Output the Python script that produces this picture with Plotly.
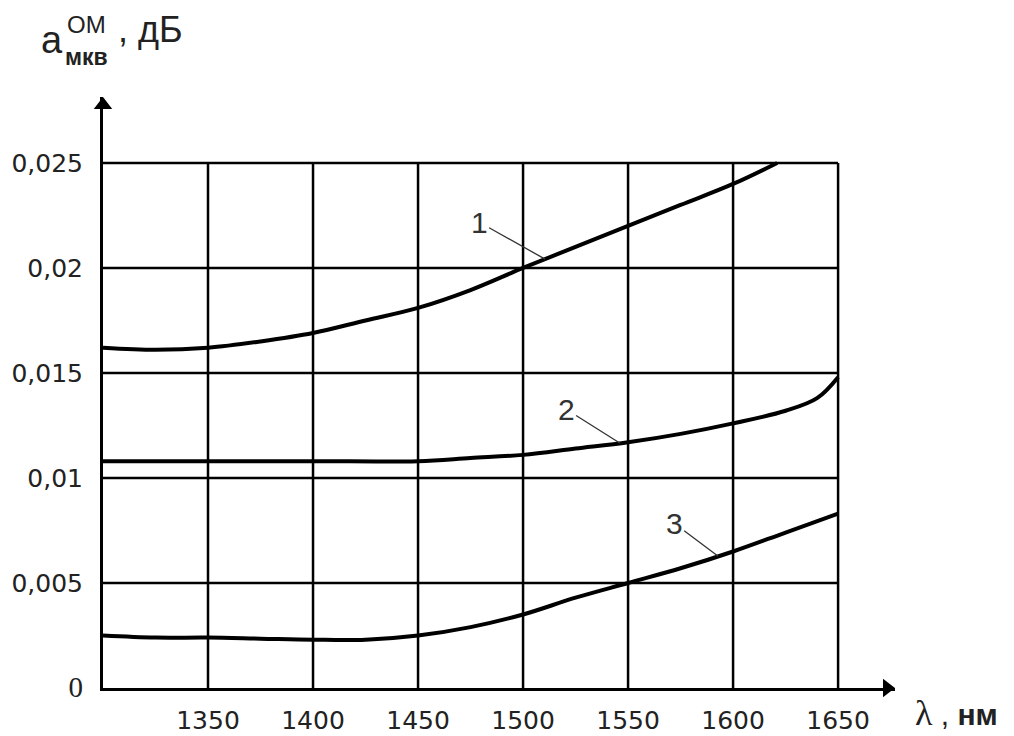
import numpy as np
import plotly.graph_objects as go

# ---------------- data ----------------
x_curve1 = [1300, 1325, 1350, 1375, 1400, 1425, 1450, 1475, 1500, 1525, 1550, 1575, 1600, 1621]
y_curve1 = [0.0162, 0.0161, 0.0162, 0.0165, 0.0169, 0.0175, 0.0181, 0.01895, 0.0200, 0.0210, 0.0220, 0.0230, 0.0240, 0.0250]

x_curve2 = [1300, 1350, 1400, 1450, 1475, 1500, 1525, 1550, 1575, 1600, 1625, 1640, 1650]
y_curve2 = [0.0108, 0.0108, 0.0108, 0.0108, 0.01095, 0.0111, 0.0114, 0.0117, 0.0121, 0.0126, 0.0132, 0.0138, 0.0148]

x_curve3 = [1300, 1325, 1350, 1375, 1400, 1425, 1450, 1475, 1500, 1525, 1550, 1575, 1600, 1625, 1650]
y_curve3 = [0.0025, 0.0024, 0.0024, 0.00235, 0.0023, 0.0023, 0.0025, 0.0029, 0.0035, 0.0043, 0.0050, 0.0057, 0.0065, 0.0074, 0.0083]

curve_labels = ["1", "2", "3"]
label_x = [1510.5, 1546.2, 1592.9]

x_tickvals = [1350, 1400, 1450, 1500, 1550, 1600, 1650]
x_ticktext = ["1350", "1400", "1450", "1500", "1550", "1600", "1650"]
y_tickvals = [0, 0.005, 0.01, 0.015, 0.02, 0.025]
y_ticktext = ["<span style='font-family:Liberation Serif;font-size:29px'>0</span>",
              "0,005", "0,01", "0,015", "0,02", "0,025"]

X_MIN, X_FRAME = 1300, 1650
Y_MIN, Y_FRAME = 0, 0.025
X_MAX = 1677.1
Y_MAX = 0.02814

# ---------------- layout geometry ----------------
PAGE_OFF = 8                     # default body margin of the html page
W, H = 1014 - PAGE_OFF, 736 - PAGE_OFF
PLOT_L, PLOT_R, PLOT_T, PLOT_B = 103, 895, 97, 688   # plot area in page pixels
ML = PLOT_L - PAGE_OFF
MT = PLOT_T - PAGE_OFF
MR = W - (PLOT_R - PAGE_OFF)
MB = H - (PLOT_B - PAGE_OFF)
PW, PH = PLOT_R - PLOT_L, PLOT_B - PLOT_T


def px(xp):
    return (xp - PLOT_L) / PW


def py(yp):
    return (PLOT_B - yp) / PH


x_per_px = (X_MAX - X_MIN) / PW
y_per_px = (Y_MAX - Y_MIN) / PH

fig = go.Figure()

for xs, ys in [(x_curve1, y_curve1), (x_curve2, y_curve2), (x_curve3, y_curve3)]:
    fig.add_trace(go.Scatter(x=xs, y=ys, mode="lines",
                             line=dict(color="black", width=4, shape="spline", smoothing=1.0),
                             showlegend=False, hoverinfo="skip"))

# axis arrowheads
fig.add_trace(go.Scatter(x=[X_MAX - 8 * x_per_px], y=[Y_MIN], mode="markers",
                         marker=dict(symbol="triangle-right", size=16, color="black"),
                         cliponaxis=False, showlegend=False, hoverinfo="skip"))
fig.add_trace(go.Scatter(x=[X_MIN], y=[Y_MAX - 8 * y_per_px], mode="markers",
                         marker=dict(symbol="triangle-up", size=16, color="black"),
                         cliponaxis=False, showlegend=False, hoverinfo="skip"))

shapes = []
for xv in x_tickvals:
    shapes.append(dict(type="line", xref="x", yref="y", x0=xv, x1=xv, y0=Y_MIN, y1=Y_FRAME,
                       line=dict(color="black", width=2.5)))
for yv in y_tickvals[1:]:
    shapes.append(dict(type="line", xref="x", yref="y", x0=X_MIN, x1=X_FRAME, y0=yv, y1=yv,
                       line=dict(color="black", width=2.5)))

annotations = []
curves = [(x_curve1, y_curve1), (x_curve2, y_curve2), (x_curve3, y_curve3)]
offsets = [(-66, -37), (-54, -34), (-44, -33)]
for (xs, ys), lab, lx, (ax, ay) in zip(curves, curve_labels, label_x, offsets):
    annotations.append(dict(x=lx, y=float(np.interp(lx, xs, ys)), xref="x", yref="y",
                            text=lab, showarrow=True, arrowhead=0, arrowwidth=1.3,
                            arrowcolor="#333", ax=ax, ay=ay,
                            font=dict(family="Liberation Sans, Arial", size=30, color="#333")))

# axis title pieces
annotations += [
    dict(text="a", xref="paper", yref="paper", x=px(39), y=py(40), xanchor="left", yanchor="middle",
         showarrow=False, font=dict(family="Liberation Sans, Arial", size=38, color="#222")),
    dict(text="ОМ", xref="paper", yref="paper", x=px(66), y=py(24), xanchor="left", yanchor="middle",
         showarrow=False, borderpad=0, font=dict(family="Liberation Sans, Arial", size=24, color="#222")),
    dict(text="<b>мкв</b>", xref="paper", yref="paper", x=px(63), y=py(57), xanchor="left", yanchor="middle",
         showarrow=False, font=dict(family="Liberation Sans, Arial", size=23, color="#222")),
    dict(text=", дБ", xref="paper", yref="paper", x=px(116), y=py(30), xanchor="left", yanchor="middle",
         showarrow=False, font=dict(family="Liberation Sans, Arial", size=36, color="#222")),
    dict(text="<span style='font-family:Liberation Serif;font-size:36px'>λ</span> , <b>нм</b>",
         xref="paper", yref="paper", x=px(913), y=py(713), xanchor="left", yanchor="middle",
         showarrow=False, font=dict(family="Liberation Sans, Arial", size=30, color="#222")),
]

fig.update_layout(
    width=W, height=H,
    margin=dict(l=ML, r=MR, t=MT, b=MB, autoexpand=False),
    paper_bgcolor="white", plot_bgcolor="white",
    shapes=shapes, annotations=annotations,
    xaxis=dict(range=[X_MIN, X_MAX], showgrid=False, zeroline=False, showline=True, automargin=False,
               linecolor="black", linewidth=3, ticks="", tickvals=x_tickvals, ticktext=x_ticktext,
               ticklabelstandoff=8,
               tickfont=dict(family="DejaVu Sans", size=25, color="#222")),
    yaxis=dict(range=[Y_MIN, Y_MAX], showgrid=False, zeroline=False, showline=True, automargin=False,
               linecolor="black", linewidth=3, ticks="", tickvals=y_tickvals, ticktext=y_ticktext,
               ticklabelstandoff=12,
               tickfont=dict(family="DejaVu Sans", size=25, color="#222")),
)

fig.write_html("out.html")
